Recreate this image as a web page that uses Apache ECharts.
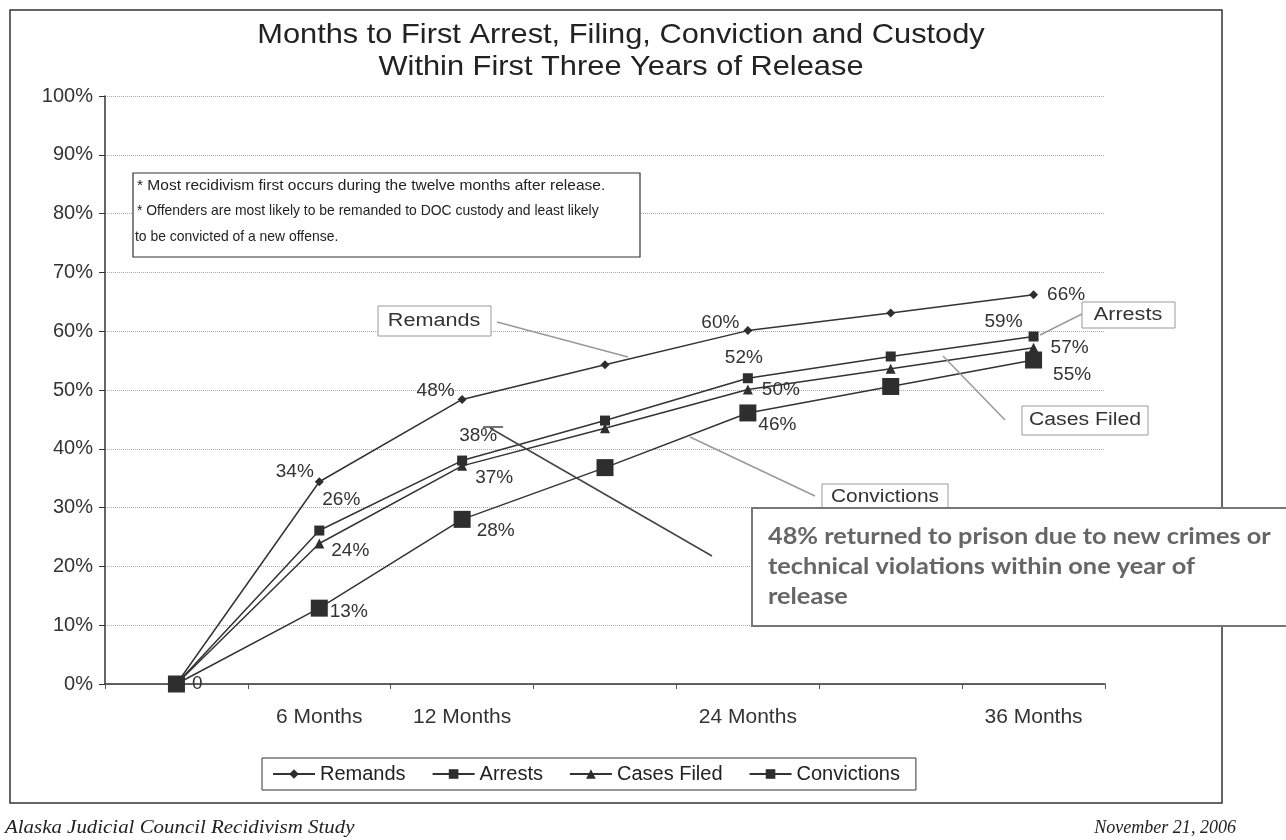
<!DOCTYPE html>
<html>
<head>
<meta charset="utf-8">
<script src="https://cdn.jsdelivr.net/npm/echarts@6/dist/echarts.min.js"></script>
<style>
html,body{margin:0;padding:0;background:#fff;}
#chart{width:1286px;height:840px;}
</style>
</head>
<body>
<div id="chart"></div>
<script>
// ---- data ----
const categories = ['0 Months', '6 Months', '12 Months', '18 Months', '24 Months', '30 Months', '36 Months'];
const tickLabels = ['', '6 Months', '12 Months', '', '24 Months', '', '36 Months'];
const yTicks = [0, 10, 20, 30, 40, 50, 60, 70, 80, 90, 100];
const remands = [0, 34.4, 48.4, 54.3, 60.1, 63.1, 66.2];
const arrests = [0, 26.1, 38.0, 44.8, 52.0, 55.7, 59.1];
const casesFiled = [0, 23.9, 37.1, 43.5, 50.1, 53.6, 57.2];
const convictions = [0, 12.9, 28.0, 36.8, 46.1, 50.6, 55.1];
const seriesNames = ['Remands', 'Arrests', 'Cases Filed', 'Convictions'];

// ---- label placement (style, not data) ----
const labelSpecs = {
  'Remands': {1: ['left', [3, -10]], 2: ['left', [1, -9]], 4: ['left', [0, -8]], 6: ['right', [5, 0]]},
  'Arrests': {1: ['top', [22, -12]], 2: ['top', [16, -6]], 4: ['top', [-4, -2]], 6: ['left', [-2, -15]]},
  'Cases Filed': {1: ['right', [3, 7]], 2: ['right', [4, 12]], 4: ['right', [5, 0]], 6: ['right', [8, 0]]},
  'Convictions': {0: ['right', [3, 0]], 1: ['right', [-2, 4]], 2: ['right', [2, 11]], 4: ['right', [-2, 12]], 6: ['right', [7, 15]]}
};
const styles = {
  'Remands': {symbol: 'diamond', size: 9},
  'Arrests': {symbol: 'rect', size: 10},
  'Cases Filed': {symbol: 'triangle', size: 10},
  'Convictions': {symbol: 'rect', size: 17}
};
const valuesByName = {'Remands': remands, 'Arrests': arrests, 'Cases Filed': casesFiled, 'Convictions': convictions};

const FONT = 'Arial, "Liberation Sans", sans-serif';

function buildSeries(name) {
  const vals = valuesByName[name];
  const spec = labelSpecs[name];
  return {
    name: name,
    type: 'line',
    symbol: styles[name].symbol,
    symbolSize: styles[name].size,
    showAllSymbol: true,
    lineStyle: {color: '#333', width: 1.5},
    itemStyle: {color: '#2e2e2e'},
    emphasis: {disabled: true},
    z: 5,
    data: vals.map((v, i) => {
      const s = spec[i];
      return {
        value: v,
        label: s ? {
          show: true,
          position: s[0],
          offset: s[1],
          distance: 4,
          fontFamily: FONT,
          fontSize: 19,
          color: '#333',
          formatter: (p) => (p.value === 0 ? '0' : Math.round(p.value) + '%')
        } : {show: false}
      };
    })
  };
}

const chart = echarts.init(document.getElementById('chart'), null, {renderer: 'canvas'});

function txt(x, y, text, opts, sx) {
  return {
    type: 'text', z: 110, x: x, y: y, scaleX: sx || 1,
    style: Object.assign({x: 0, y: 0, text: text, fill: '#222', font: '15px ' + FONT, textAlign: 'left', textVerticalAlign: 'middle'}, opts || {})
  };
}
function box(x, y, w, h, stroke, lw) {
  return {type: 'rect', z: 100, shape: {x: x, y: y, width: w, height: h}, style: {fill: '#fff', stroke: stroke, lineWidth: lw}};
}
function seg(x1, y1, x2, y2, color, lw) {
  return {type: 'line', z: 100, shape: {x1: x1, y1: y1, x2: x2, y2: y2}, style: {stroke: color, lineWidth: lw}};
}

const CALLOUT = {font: '18px ' + FONT, textAlign: 'center', fill: '#333'};
const NOTE = {font: '14.5px ' + FONT, fill: '#222'};
const BIG = {font: 'bold 22px Lato, "Open Sans", sans-serif', fill: '#666'};
const FOOT = {font: 'italic 19px "Liberation Serif", "DejaVu Serif", serif', fill: '#222'};

const option = {
  backgroundColor: '#fff',
  animation: false,
  grid: {left: 105, right: 181, top: 96, bottom: 156, containLabel: false},
  xAxis: {
    type: 'category',
    data: categories,
    boundaryGap: true,
    axisLine: {lineStyle: {color: '#333', width: 1.5}},
    axisTick: {show: true, length: 5, lineStyle: {color: '#555'}},
    axisLabel: {
      interval: 0, margin: 23, fontFamily: FONT, fontSize: 21, color: '#333',
      formatter: (v, i) => tickLabels[i]
    },
    splitLine: {show: false}
  },
  yAxis: {
    type: 'value',
    min: yTicks[0], max: yTicks[yTicks.length - 1], interval: 10,
    axisLine: {show: true, lineStyle: {color: '#333', width: 1.5}},
    axisTick: {show: true, length: 6, lineStyle: {color: '#333'}},
    axisLabel: {fontFamily: FONT, fontSize: 20, color: '#333', margin: 12, formatter: '{value}%'},
    splitLine: {show: true, lineStyle: {color: '#aaa', type: 'dotted', width: 1}}
  },
  legend: {
    data: seriesNames,
    left: 262, top: 758,
    orient: 'horizontal',
    borderColor: '#333', borderWidth: 1,
    padding: [6, 16, 6, 10],
    itemGap: 26,
    itemWidth: 42, itemHeight: 12,
    textStyle: {fontFamily: FONT, fontSize: 20, color: '#222'}
  },
  series: seriesNames.map(buildSeries),
  graphic: [
    // outer frame
    {type: 'rect', z: -10, silent: true, shape: {x: 10, y: 10, width: 1212, height: 793}, style: {fill: 'none', stroke: '#333', lineWidth: 1.5}},
    // title
    txt(621, 35, 'Months to First Arrest, Filing, Conviction and Custody', {font: '28px ' + FONT, textAlign: 'center', fill: '#222'}, 1.1),
    txt(621, 67, 'Within First Three Years of Release', {font: '28px ' + FONT, textAlign: 'center', fill: '#222'}, 1.1),
    // note box
    box(133, 173, 507, 84, '#333', 1.2),
    txt(137, 186, '* Most recidivism first occurs during the twelve months after release.', NOTE, 1.07),
    txt(137, 211, '* Offenders are most likely to be remanded to DOC custody and least likely', NOTE, 0.96),
    txt(135, 237, 'to be convicted of a new offense.', NOTE, 0.96),
    // series callouts
    seg(497, 322, 628, 357, '#999', 1.5),
    box(378, 306, 113, 30, '#999', 1),
    txt(434, 321, 'Remands', CALLOUT, 1.2),
    seg(1082, 314, 1040, 335, '#999', 1.5),
    box(1082, 302, 93, 26, '#999', 1),
    txt(1128, 315, 'Arrests', CALLOUT, 1.2),
    seg(1005, 420, 943, 356, '#999', 1.5),
    box(1022, 406, 126, 29, '#999', 1),
    txt(1085, 420, 'Cases Filed', CALLOUT, 1.18),
    seg(815, 496, 690, 437, '#999', 1.5),
    box(822, 484, 126, 27, '#999', 1),
    txt(885, 497, 'Convictions', CALLOUT, 1.16),
    // annotation arrow
    seg(483, 427, 503, 427, '#444', 1.5),
    seg(490, 428, 712, 556, '#444', 1.5),
    // annotation box
    box(752, 508, 545, 118, '#777', 2),
    txt(768, 537, '48% returned to prison due to new crimes or', BIG, 1.15),
    txt(768, 567, 'technical violations within one year of', BIG, 1.15),
    txt(768, 597, 'release', BIG, 1.15),
    // footer
    txt(5, 828, 'Alaska Judicial Council Recidivism Study', FOOT, 1.1),
    txt(1236, 828, 'November 21, 2006', Object.assign({}, FOOT, {textAlign: 'right'}), 0.95)
  ]
};
chart.setOption(option);
</script>
</body>
</html>
